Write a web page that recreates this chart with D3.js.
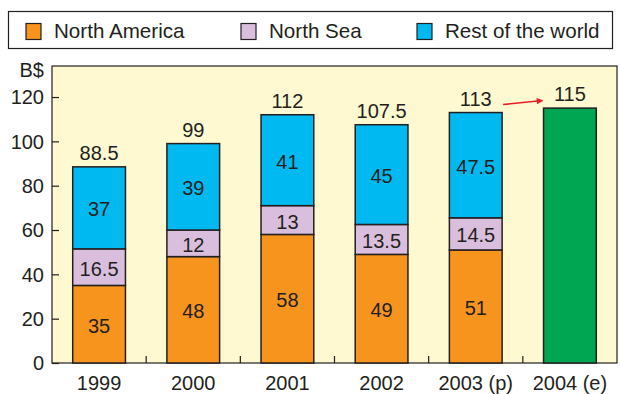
<!DOCTYPE html>
<html>
<head>
<meta charset="utf-8">
<script src="https://cdn.jsdelivr.net/npm/d3@7"></script>
<style>
  body { margin: 0; background: #fff; }
  text { font-family: "Liberation Sans", Arial, sans-serif; fill: #231f20; }
</style>
</head>
<body>
<script>
const years = ['1999', '2000', '2001', '2002', '2003 (p)', '2004 (e)']
const northAmerica = [35, 48, 58, 49, 51, null]
const northSea = [16.5, 12, 13, 13.5, 14.5, null]
const restOfWorld = [37, 39, 41, 45, 47.5, null]
const totals = [88.5, 99, 112, 107.5, 113, 115]
const yTicks = [0, 20, 40, 60, 80, 100, 120]
const seriesNames = ['North America', 'North Sea', 'Rest of the world']

const width = 620
const height = 394
const colors = ['#f7941d', '#d9bfdd', '#00b9f1']
const green = '#00a651'
const ink = '#231f20'
const fontSize = 20

const svg = d3.select('body')
  .append('svg')
  .attr('width', width)
  .attr('height', height)

const plot = {left: 52, right: 617, top: 66, bottom: 363}

const x = d3.scaleBand()
  .domain(years)
  .range([plot.left, plot.right])
  .paddingInner(0.44)
  .paddingOuter(0.22)

const y = d3.scaleLinear()
  .domain([0, 134])
  .range([plot.bottom, plot.top])

// plot background
svg.append('rect')
  .attr('x', plot.left)
  .attr('y', plot.top)
  .attr('width', plot.right - plot.left)
  .attr('height', plot.bottom - plot.top)
  .attr('fill', '#fef9d0')
  .attr('stroke', ink)
  .attr('stroke-width', 1.2)

// y axis ticks (inside)
const yAxis = d3.axisRight(y)
  .tickValues(yTicks)
  .tickSize(7)
  .tickFormat('')
svg.append('g')
  .attr('transform', `translate(${plot.left},0)`)
  .call(yAxis)
  .call((g) => g.select('.domain').remove())
  .call((g) => g.selectAll('line').attr('stroke', ink).attr('stroke-width', 1.2))

svg.append('g')
  .selectAll('text')
  .data(yTicks)
  .enter()
  .append('text')
  .attr('x', 44)
  .attr('y', (d) => y(d) + 7.2)
  .attr('text-anchor', 'end')
  .attr('font-size', fontSize)
  .text((d) => d)

svg.append('text')
  .attr('x', 44)
  .attr('y', 77)
  .attr('text-anchor', 'end')
  .attr('font-size', fontSize)
  .text('B$')

// x tick marks between categories
const step = x.step()
svg.append('g')
  .selectAll('line')
  .data(years.slice(1))
  .enter()
  .append('line')
  .attr('x1', (d) => x(d) - (step - x.bandwidth()) / 2)
  .attr('x2', (d) => x(d) - (step - x.bandwidth()) / 2)
  .attr('y1', plot.bottom)
  .attr('y2', plot.bottom - 7)
  .attr('stroke', ink)
  .attr('stroke-width', 1.2)

svg.append('g')
  .selectAll('text')
  .data(years)
  .enter()
  .append('text')
  .attr('x', (d) => x(d) + x.bandwidth() / 2)
  .attr('y', 390)
  .attr('text-anchor', 'middle')
  .attr('font-size', fontSize)
  .text((d) => d)

// stacked bars
const rows = years.map((year, i) => ({
  year,
  'North America': northAmerica[i],
  'North Sea': northSea[i],
  'Rest of the world': restOfWorld[i]
})).filter((d) => d['North America'] != null)

const stack = d3.stack().keys(seriesNames)(rows)

stack.forEach((layer, k) => {
  const g = svg.append('g')
  g.selectAll('rect')
    .data(layer)
    .enter()
    .append('rect')
    .attr('x', (d) => x(d.data.year))
    .attr('y', (d) => y(d[1]))
    .attr('width', x.bandwidth())
    .attr('height', (d) => y(d[0]) - y(d[1]))
    .attr('fill', colors[k])
    .attr('stroke', ink)
    .attr('stroke-width', 1.5)
  g.selectAll('text')
    .data(layer)
    .enter()
    .append('text')
    .attr('x', (d) => x(d.data.year) + x.bandwidth() / 2)
    .attr('y', (d) => y((d[0] + d[1]) / 2) + 8.5)
    .attr('text-anchor', 'middle')
    .attr('font-size', fontSize)
    .text((d) => d[1] - d[0])
})

// estimate bar
const lastYear = years[years.length - 1]
svg.append('rect')
  .attr('x', x(lastYear))
  .attr('y', y(totals[totals.length - 1]))
  .attr('width', x.bandwidth())
  .attr('height', y(0) - y(totals[totals.length - 1]))
  .attr('fill', green)
  .attr('stroke', ink)
  .attr('stroke-width', 1.5)

// totals
svg.append('g')
  .selectAll('text')
  .data(totals)
  .enter()
  .append('text')
  .attr('x', (d, i) => x(years[i]) + x.bandwidth() / 2)
  .attr('y', (d) => y(d) - 7)
  .attr('text-anchor', 'middle')
  .attr('font-size', fontSize)
  .text((d) => d)

// red arrow from 2003 to 2004
const defs = svg.append('defs')
defs.append('marker')
  .attr('id', 'arrow')
  .attr('viewBox', '0 0 10 10')
  .attr('refX', 9)
  .attr('refY', 5)
  .attr('markerWidth', 5)
  .attr('markerHeight', 4)
  .attr('orient', 'auto')
  .append('path')
  .attr('d', 'M0,0L10,5L0,10z')
  .attr('fill', '#ed1c24')

const ax0 = x(years[4]) + x.bandwidth() + 1
const ax1 = x(years[5]) - 1
svg.append('line')
  .attr('x1', ax0)
  .attr('y1', y(totals[4]) - 8)
  .attr('x2', ax1)
  .attr('y2', y(totals[4]) - 12)
  .attr('stroke', '#ed1c24')
  .attr('stroke-width', 1.6)
  .attr('marker-end', 'url(#arrow)')

// legend
svg.append('rect')
  .attr('x', 8.5)
  .attr('y', 11.5)
  .attr('width', 604)
  .attr('height', 37)
  .attr('fill', '#fff')
  .attr('stroke', ink)
  .attr('stroke-width', 1.2)

const legendX = [26, 241, 417]
const legend = svg.append('g')
  .selectAll('g')
  .data(seriesNames)
  .enter()
  .append('g')
  .attr('transform', (d, i) => `translate(${legendX[i]},23.5)`)

legend.append('rect')
  .attr('width', 15)
  .attr('height', 16)
  .attr('fill', (d, i) => colors[i])
  .attr('stroke', ink)
  .attr('stroke-width', 1.2)

legend.append('text')
  .attr('x', 28)
  .attr('y', 14.5)
  .attr('font-size', 20.6)
  .text((d) => d)
</script>
</body>
</html>
